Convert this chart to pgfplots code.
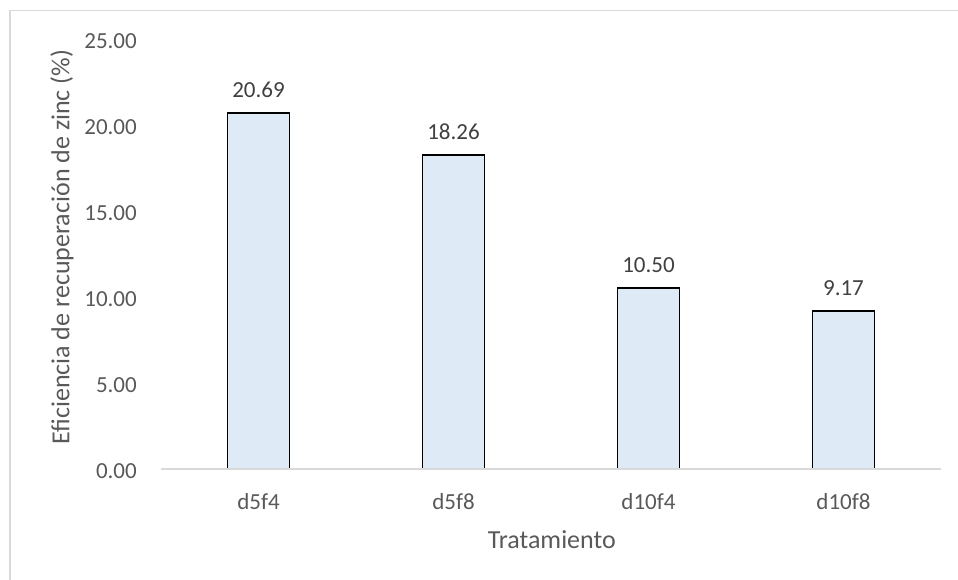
\documentclass[border=0pt]{standalone}
\usepackage{fontspec}
\setmainfont{Carlito}
\usepackage{pgfplots}
\pgfplotsset{compat=1.18}
\definecolor{barfill}{RGB}{222,235,247}
\definecolor{axgray}{RGB}{217,217,217}
\definecolor{tickgray}{RGB}{89,89,89}
\definecolor{lblgray}{RGB}{64,64,64}
\begin{document}
\begin{tikzpicture}[x=1pt,y=1pt]
\path[use as bounding box] (0,0) rectangle (958,580);
\draw[axgray, line width=1.5pt] (9.75,0) -- (9.75,569.5) -- (958,569.5);
\begin{axis}[
  at={(161pt,111pt)}, anchor=south west,
  scale only axis, width=780pt, height=430pt,
  ymin=0, ymax=25, xmin=-0.5, xmax=3.5,
  ytick={0,5,10,15,20,25},
  xtick={0,1,2,3}, xticklabels={d5f4,d5f8,d10f4,d10f8},
  axis x line*=bottom, axis y line*=left,
  y axis line style={draw=none},
  x axis line style={draw=axgray, line width=1.5pt},
  axis on top,
  major tick length=0pt,
  /pgf/number format/.cd, fixed, fixed zerofill, precision=2, assume math mode=true,
  /pgfplots/.cd,
  yticklabel style={font=\fontsize{23}{27}\selectfont, text=tickgray, anchor=east, inner sep=0pt, xshift=-24pt, yshift=-2pt},
  xticklabel style={font=\fontsize{23}{27}\selectfont, text=tickgray, anchor=center, inner sep=0pt, yshift=-33pt},
  xlabel={Tratamiento},
  ylabel={Eficiencia de recuperación de zinc (\%)},
  every axis x label/.style={at={(axis description cs:0.501,-0.165)}, anchor=center, font=\fontsize{26}{30}\selectfont, text=tickgray},
  every axis y label/.style={at={(axis description cs:-0.127,0.516)}, anchor=center, rotate=90, font=\fontsize{26}{30}\selectfont, text=tickgray},
  ybar, bar width=62pt, bar shift=0pt,
  nodes near coords,
  nodes near coords style={font=\fontsize{23}{27}\selectfont, text=lblgray, anchor=center, yshift=23pt},
  clip=false,
]
\addplot[fill=barfill, draw=black, line width=1.8pt] coordinates {(0,20.69) (1,18.26) (2,10.50) (3,9.17)};
\end{axis}
\end{tikzpicture}
\end{document}
